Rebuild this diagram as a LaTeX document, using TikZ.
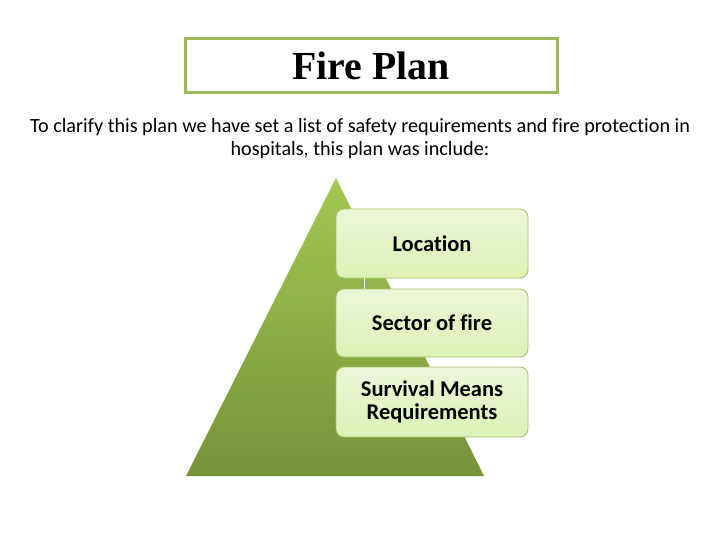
\documentclass[tikz,border=0pt]{standalone}
\usepackage{fontspec}
\setmainfont{Carlito}[Ligatures=NoCommon]
\newfontfamily\titlefont{Liberation Serif}
\usepackage{xcolor}
\definecolor{gb}{HTML}{9BBB59}
\definecolor{gt}{HTML}{A2C852}
\definecolor{gd}{HTML}{76933A}
\definecolor{bt}{HTML}{EBF6D8}
\definecolor{bb}{HTML}{DDF1B6}
\tikzset{
	stepbox/.style = {draw = gb!90, line width = 0.8pt, rounded corners = 8pt, top color = bt, bottom color = bb, minimum width = 192pt, font = \bfseries\fontsize{22.5}{23}\selectfont, align = center, inner sep = 0pt}
}

\begin{document}
\begin{tikzpicture}[x = 1pt, y = -1pt]
	\useasboundingbox (0,0) rectangle (720,540);
	\node [draw = gb, line width = 3pt, minimum width = 372pt, minimum height = 54pt, font = \titlefont\bfseries\fontsize{39.8}{42}\selectfont] (title) at (371,65.5) {Fire Plan};
	\node [align = center, font = \fontsize{20.2}{23}\selectfont] (intro) at (360,139) {To clarify this plan we have set a list of safety requirements and fire protection in\\hospitals, this plan was include:};
	\shade [top color = gt, bottom color = gd] (336,178) -- (484,476) -- (186,476) -- cycle;
	\node [stepbox, minimum height = 69pt] (loc) at (432,243.5) {Location};
	\node [stepbox, minimum height = 68pt] (sec) at (432,323) {Sector of fire};
	\node [stepbox, minimum height = 70pt] (surv) at (432,402) {Survival Means\\Requirements};
	\draw [white!85!gb, line width = 1pt] (loc.south -| 364,0) -- (sec.north -| 364,0);
\end{tikzpicture}
\end{document}
